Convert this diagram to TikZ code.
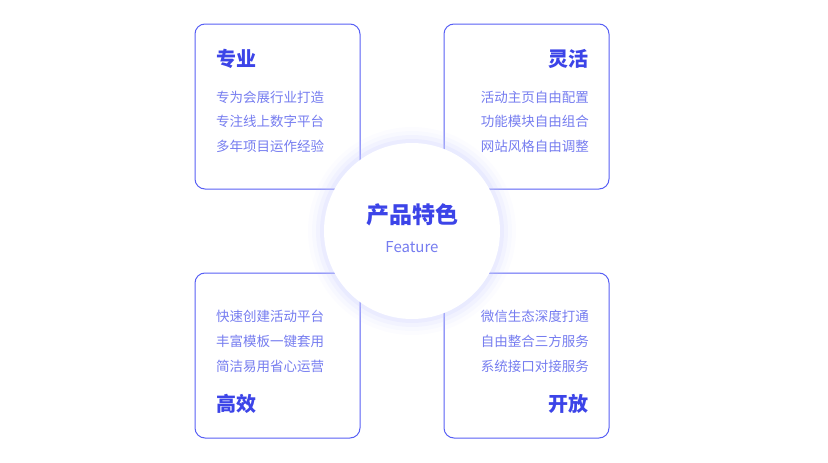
\documentclass[tikz,border=0pt]{standalone}
\usepackage{fontspec}
\setmainfont{Noto Sans CJK SC}
\usetikzlibrary{positioning}
\definecolor{featblue}{RGB}{88, 96, 245}
\definecolor{titleblue}{RGB}{60, 68, 232}
\definecolor{textblue}{RGB}{118, 125, 240}
\definecolor{glowblue}{RGB}{200, 204, 255}

\begin{document}
\begin{tikzpicture}[x=1pt, y=-1pt,
        every node/.style={inner sep=0pt},
        card/.style={draw=featblue, line width=1pt, rounded corners=10pt, fill=white},
        cardtitle/.style={font=\fontsize{20}{24}\selectfont\bfseries, text=titleblue},
        cardline/.style={font=\fontsize{13.5}{16}\selectfont, text=textblue}]

        \useasboundingbox (0,0) rectangle (828,463);

        % Cards
        \draw[card] (195,24) rectangle (360,189);
        \draw[card] (444,24) rectangle (609,189);
        \draw[card] (195,273) rectangle (360,438);
        \draw[card] (444,273) rectangle (609,438);

        % Top left
        \node[cardtitle, anchor=west] (prof) at (216,59) {专业};
        \node[cardline, anchor=west] (prof1) at (216,97) {专为会展行业打造};
        \node[cardline, anchor=west] (prof2) at (216,121) {专注线上数字平台};
        \node[cardline, anchor=west] (prof3) at (216,146) {多年项目运作经验};

        % Top right
        \node[cardtitle, anchor=east] (flex) at (589,59) {灵活};
        \node[cardline, anchor=east] (flex1) at (589,97) {活动主页自由配置};
        \node[cardline, anchor=east] (flex2) at (589,121) {功能模块自由组合};
        \node[cardline, anchor=east] (flex3) at (589,146) {网站风格自由调整};

        % Bottom left
        \node[cardline, anchor=west] (fast1) at (216,316) {快速创建活动平台};
        \node[cardline, anchor=west] (fast2) at (216,341) {丰富模板一键套用};
        \node[cardline, anchor=west] (fast3) at (216,366) {简洁易用省心运营};
        \node[cardtitle, anchor=west] (fast) at (216,404) {高效};

        % Bottom right
        \node[cardline, anchor=east] (open1) at (589,316) {微信生态深度打通};
        \node[cardline, anchor=east] (open2) at (589,341) {自由整合三方服务};
        \node[cardline, anchor=east] (open3) at (589,366) {系统接口对接服务};
        \node[cardtitle, anchor=east] (open) at (589,404) {开放};

        % Glow and centre circle
        \foreach \r/\o in {104/0.05, 100/0.08, 96/0.12, 92/0.18} {
          \fill[glowblue, opacity=\o] (412,231) circle (\r);
        }
        \node[circle, fill=white, minimum size=176pt] (hub) at (412,231) {};
        \node[font=\fontsize{23}{28}\selectfont\bfseries, text=titleblue] (hubtitle) at (412,215) {产品特色};
        \node[font=\fontsize{15}{18}\selectfont, text=textblue] (hubsub) at (412,247) {Feature};
\end{tikzpicture}
\end{document}
